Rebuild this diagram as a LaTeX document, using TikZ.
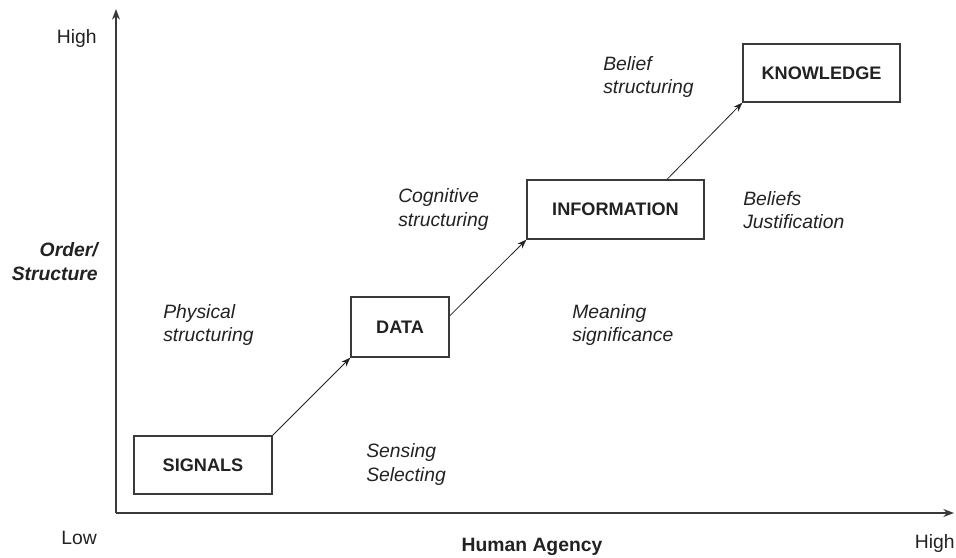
\documentclass[tikz,border=0pt]{standalone}
\usepackage{fontspec}
\setmainfont{Liberation Sans}
\usetikzlibrary{arrows.meta}
\definecolor{ink}{HTML}{222222}
\definecolor{linec}{HTML}{3A3A3A}
\tikzset{
  box/.style={draw=linec, line width=0.9pt, minimum width=#1, inner sep=0pt, minimum height=44pt,
    font=\fontsize{13.6pt}{16pt}\selectfont\bfseries, text=ink},
  lbl/.style={font=\fontsize{14.5pt}{17.3pt}\selectfont\itshape, text=ink, align=left, anchor=west, inner sep=0pt},
  axl/.style={font=\fontsize{14.5pt}{17.3pt}\selectfont, text=ink, inner sep=0pt},
  axis/.style={draw=linec, line width=1pt, -{Stealth[length=8pt,width=6pt]}},
  flow/.style={draw=ink, line width=0.6pt, -{Stealth[length=7pt,width=5pt]}}
}
\begin{document}
\begin{tikzpicture}[x=0.75pt,y=-0.75pt]
\useasboundingbox (0,0) rectangle (956,557);
% axes
\coordinate (org) at (116,513);
\coordinate (ytip) at (116,9);
\coordinate (xtip) at (954,513);
\draw[axis] (org) -- (ytip);
\draw[axis] (org) -- (xtip);
% boxes
\node[box=103.5pt, minimum height=43.5pt] (sig) at (203,465) {SIGNALS};
\node[box=73.5pt, minimum height=45pt] (data) at (400,327) {DATA};
\node[box=132.75pt, minimum height=44.25pt] (info) at (615.5,209.5) {INFORMATION};
\node[box=117.75pt, minimum height=43.5pt] (know) at (821.5,73) {KNOWLEDGE};
% connectors
\draw[flow] (sig.north east) -- (data.south west);
\draw[flow] ([yshift=8.25pt]data.east) -- (info.south west);
\draw[flow] ([xshift=38.6pt]info.north) -- (know.south west);
% process labels
\node[lbl] (phys) at (163,325) {Physical\\structuring};
\node[lbl] (cogn) at (398,209.5) {Cognitive\\structuring};
\node[lbl] (bels) at (603,77) {Belief\\structuring};
\node[lbl] (belj) at (743,210) {Beliefs\\Justification};
\node[lbl] (mean) at (572,325) {Meaning\\significance};
\node[lbl] (sens) at (366,464.5) {Sensing\\Selecting};
% axis labels
\node[axl, anchor=east] (yhigh) at (97,38) {High};
\node[axl, anchor=east] (xlow) at (97,538) {Low};
\node[axl, anchor=east] (xhigh) at (955,543) {High};
\node[axl, font=\fontsize{14.5pt}{17.3pt}\selectfont\bfseries] (xname) at (532,547) {Human Agency};
\node[axl, anchor=east, align=right, font=\fontsize{14.5pt}{18pt}\selectfont\bfseries\itshape] (yname) at (98,262) {Order/\\Structure};
\end{tikzpicture}
\end{document}
